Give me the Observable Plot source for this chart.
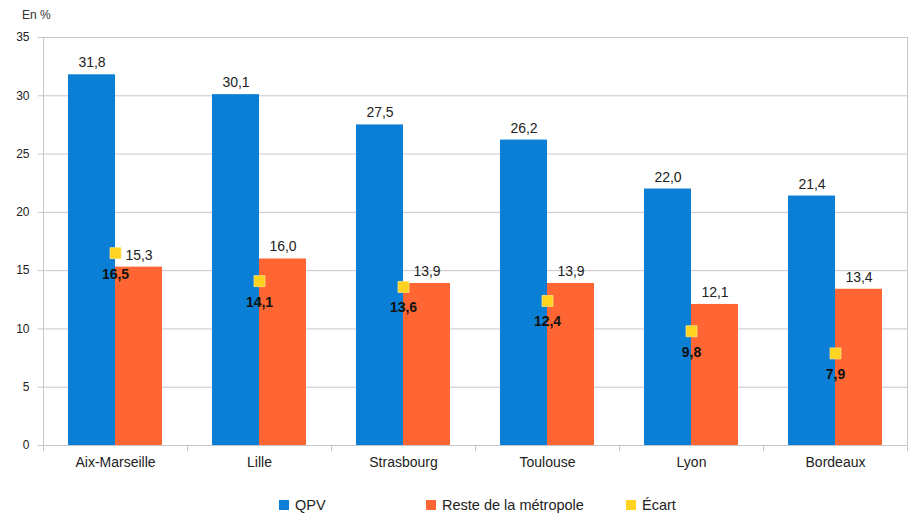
<!DOCTYPE html>
<html><head><meta charset="utf-8">
<script src="https://cdn.jsdelivr.net/npm/d3@7"></script>
<script src="https://cdn.jsdelivr.net/npm/@observablehq/plot@0.6"></script>
<style>
body{margin:0;background:#fff;font-family:"Liberation Sans",Arial,sans-serif;}
#wrap{position:relative;width:914px;height:513px;overflow:hidden;}
#unit{position:absolute;left:22px;top:8px;font-size:12px;color:#333;}
#legend{position:absolute;top:497px;left:0;width:914px;height:18px;font-size:14.5px;color:#222;}
.item{position:absolute;top:0;display:flex;align-items:center;gap:6px;white-space:nowrap;}
.sw{width:10px;height:10px;display:inline-block}
</style></head><body>
<div id="wrap"><div id="chart"></div><div id="unit">En %</div><div id="legend"></div></div>
<script>
const cities = ["Aix-Marseille", "Lille", "Strasbourg", "Toulouse", "Lyon", "Bordeaux"];
const qpv = [31.8, 30.1, 27.5, 26.2, 22.0, 21.4];
const reste = [15.3, 16.0, 13.9, 13.9, 12.1, 13.4];
const ecart = [16.5, 14.1, 13.6, 12.4, 9.8, 7.9];
const series = ["QPV", "Reste de la métropole", "Écart"];
const colors = ["#0a7fd5", "#ff6633", "#ffd320"];
const yTicks = [0, 5, 10, 15, 20, 25, 30, 35];

const bars = cities.flatMap((c, i) => [
  {city: c, serie: series[0], value: qpv[i]},
  {city: c, serie: series[1], value: reste[i]}
]);
const gaps = cities.map((c, i) => ({city: c, value: ecart[i]}));
const fmt = (v) => v.toFixed(1).replace(".", ",");
const grid = "#c6c6c6";

const chart = Plot.plot({
  width: 914,
  height: 475,
  marginTop: 37,
  marginBottom: 30,
  marginLeft: 42,
  marginRight: 7,
  style: {fontFamily: "'Liberation Sans', Arial, sans-serif", color: "#222", background: "#fff"},
  fx: {domain: cities, padding: 0, label: null},
  x: {domain: series.slice(0, 2), paddingInner: 0, paddingOuter: 0.52, axis: null},
  y: {domain: [0, 35], label: null},
  color: {domain: series, range: colors},
  marks: [
    Plot.gridY(yTicks, {stroke: grid, strokeOpacity: 1}),
    Plot.axisY(yTicks, {tickSize: 5, tickPadding: 9, stroke: grid, fontSize: 12, label: null, tickFormat: (d) => d}),
    Plot.axisFx({anchor: "bottom", tickSize: 0, tickPadding: 12, fontSize: 14, label: null}),
    Plot.frame({anchor: "left", insetTop: 408, insetBottom: -5, stroke: grid}),
    Plot.frame({anchor: "left", facetAnchor: "left", insetBottom: -5, stroke: grid}),
    Plot.frame({anchor: "right", facetAnchor: "right", insetBottom: -5, stroke: grid}),
    Plot.ruleY([0], {stroke: grid}),
    Plot.barY(bars, {fx: "city", x: "serie", y: "value", fill: "serie"}),
    Plot.text(bars, {fx: "city", x: "serie", y: "value", text: (d) => fmt(d.value), dy: -12, fontSize: 14, fill: "#222"}),
    Plot.dot(gaps, {fx: "city", y: "value", symbol: "square", r: 6.2, fill: colors[2], stroke: "#ffe27a", strokeWidth: 0.8}),
    Plot.text(gaps, {fx: "city", y: "value", text: (d) => fmt(d.value), dy: 21, fontSize: 14, fontWeight: "bold", fill: "#111"})
  ]
});
document.getElementById("chart").appendChild(chart);

const legendPos = [279, 426, 626];
const legend = document.getElementById("legend");
series.forEach((s, i) => {
  const it = document.createElement("div");
  it.className = "item";
  it.style.left = legendPos[i] + "px";
  it.innerHTML = `<span class="sw" style="background:${colors[i]}"></span><span>${s}</span>`;
  legend.appendChild(it);
});
</script>
</body></html>
